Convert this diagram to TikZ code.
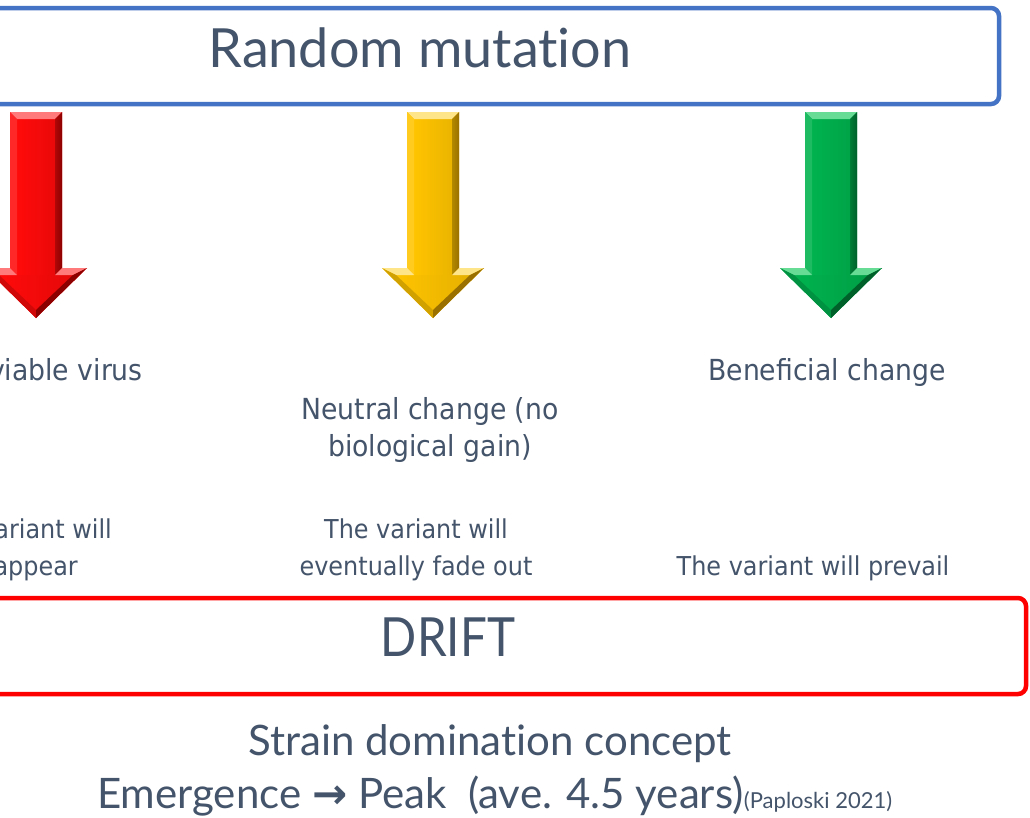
\documentclass[tikz,border=0pt]{standalone}
\usepackage{fontspec}
\setmainfont{Lato}[Ligatures=NoCommon]
\newfontfamily\narrowfont{Lato}[Ligatures=NoCommon, FakeStretch=0.88]
\newfontfamily\labelfont[FakeStretch=0.92]{DejaVu Sans}
\newfontfamily\symfont{DejaVu Sans}
\definecolor{ink}{HTML}{44546A}
\definecolor{frameblue}{HTML}{4472C4}
\definecolor{framered}{HTML}{FF0000}
\definecolor{redbase}{HTML}{FF0A0A}
\definecolor{redlight}{HTML}{FF7A7A}
\definecolor{reddark}{HTML}{8C0000}
\definecolor{yelbase}{HTML}{FFC400}
\definecolor{yellight}{HTML}{FFE58A}
\definecolor{yeldark}{HTML}{9A7000}
\definecolor{grnbase}{HTML}{00B24E}
\definecolor{grnlight}{HTML}{66DC95}
\definecolor{grndark}{HTML}{00602A}

% Bevelled down-arrow: #1 centre x, #2 base, #3 light, #4 dark colour
\newcommand\bevelarrow[4]{%
  \begin{scope}[shift={(#1,0)}]
    \fill[#2] (-26,112) -- (26,112) -- (26,268) -- (51,268) -- (0,318)
      -- (-51,268) -- (-26,268) -- cycle;
    % shaft face
    \shade[left color=#2, right color=#2!92!black]
      (-19,119) rectangle (19,275);
    % top bevel
    \fill[#3] (-26,112) -- (26,112) -- (19,119) -- (-19,119) -- cycle;
    % left shaft bevel
    \fill[#2!88!white] (-26,112) -- (-19,119) -- (-19,275) -- (-26,268) -- cycle;
    % right shaft bevel
    \shade[left color=#2!70!black, right color=#4]
      (26,112) -- (26,268) -- (19,275) -- (19,119) -- cycle;
    % head face
    \shade[left color=#2, right color=#2!90!black]
      (-37,275) -- (37,275) -- (0,310) -- cycle;
    % head upper bevels
    \fill[#3] (-51,268) -- (-26,268) -- (-19,275) -- (-37,275) -- cycle;
    \fill[#3] (26,268) -- (51,268) -- (37,275) -- (19,275) -- cycle;
    % head lower bevels
    \fill[#2!82!black] (-51,268) -- (0,318) -- (0,310) -- (-37,275) -- cycle;
    \fill[#4] (51,268) -- (0,318) -- (0,310) -- (37,275) -- cycle;
  \end{scope}}

\tikzset{
  frame/.style={rounded corners=8pt, line width=4.5pt},
  heading/.style={text=ink, inner sep=0pt, font=\fontsize{54}{60}\selectfont},
  outcome/.style={text=ink, inner sep=0pt, font=\labelfont\fontsize{29}{34}\selectfont},
  fate/.style={text=ink, inner sep=0pt, font=\labelfont\fontsize{26}{31}\selectfont},
  footer/.style={text=ink, inner sep=0pt, font=\fontsize{42}{50}\selectfont},
  citation/.style={text=ink, inner sep=0pt, font=\fontsize{22}{26}\selectfont},
}

\begin{document}
\begin{tikzpicture}[x=1pt, y=-1pt]
  \clip (0,0) rectangle (1030,817);
  \fill[white] (0,0) rectangle (1030,817);

  % top frame
  \draw[frame, frameblue] (-30,8) rectangle (999,104);
  \node[heading, anchor=base] (mutation) at (420,67) {Random mutation};

  % arrows
  \bevelarrow{36}{redbase}{redlight}{reddark}
  \bevelarrow{433}{yelbase}{yellight}{yeldark}
  \bevelarrow{831}{grnbase}{grnlight}{grndark}

  % outcomes
  \node[outcome, anchor=base east] (lethal) at (143,380) {viable virus};
  \node[outcome, anchor=base] (neutral1) at (430,419) {Neutral change (no};
  \node[outcome, anchor=base] (neutral2) at (430,456) {biological gain)};
  \node[outcome, anchor=base] (benefit) at (827,380) {Beneficial change};

  \node[fate, anchor=base east] (fate1a) at (112,538) {ariant will};
  \node[fate, anchor=base east] (fate1b) at (78,575) {appear};
  \node[fate, anchor=base] (fate2a) at (416,538) {The variant will};
  \node[fate, anchor=base] (fate2b) at (416,575) {eventually fade out};
  \node[fate, anchor=base] (fate3) at (813,575) {The variant will prevail};

  % drift frame
  \draw[frame, framered] (-30,598) rectangle (1026,694);
  \node[heading, font=\narrowfont\fontsize{54}{60}\selectfont, anchor=base]
    (drift) at (448,656) {DRIFT};

  % footer
  \node[footer, anchor=base] (concept) at (490,755) {Strain domination concept};
  \node[footer, anchor=base west] (timing) at (97,808)
    {Emergence {\symfont\bfseries →} Peak\ \ (ave. 4.5 years)};
  \node[citation, anchor=base west] (source) at (timing.base east)
    {(Paploski 2021)};
\end{tikzpicture}
\end{document}
